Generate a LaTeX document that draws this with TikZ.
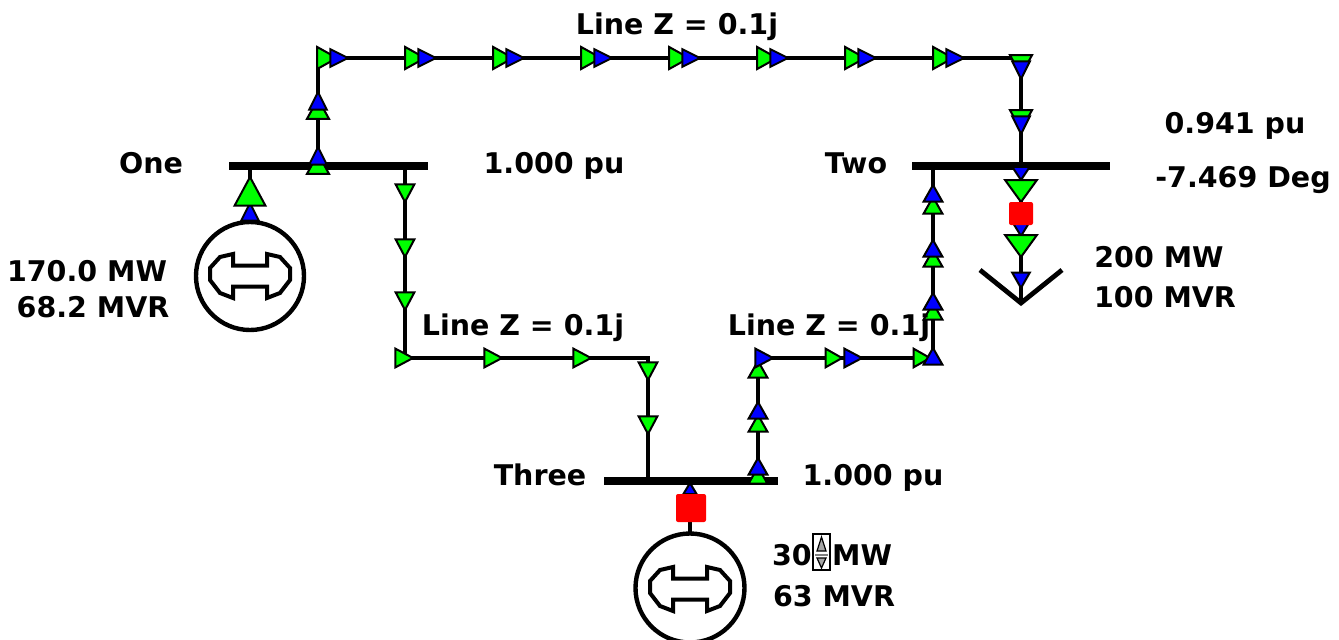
\documentclass[tikz,border=0pt]{standalone}
\usepackage{fontspec}
\setmainfont{DejaVu Sans}
\definecolor{pwg}{RGB}{0,255,0}
\definecolor{pwb}{RGB}{0,0,255}
\definecolor{pwr}{RGB}{255,0,0}
\newcommand\flowtri[6]{\filldraw[fill=#1,draw=black,line width=2pt,line join=miter,shift={(#2,#3)},rotate=#4] (0,0) -- (-#5*1.1,#6*1.1) -- (-#5*1.1,-#6*1.1) -- cycle;}
\newcommand\genbone[2]{\draw[line width=4pt,line join=miter,shift={(#1,#2)}] (-17,-22) -- (-30,-19) -- (-40,-8) -- (-40,4) -- (-30,17) -- (-17,22) -- (-17,10.5) -- (17,10.5) -- (17,22) -- (30,17) -- (40,4) -- (40,-8) -- (30,-19) -- (17,-22) -- (17,-10.5) -- (-17,-10.5) -- cycle;}
\begin{document}
\begin{tikzpicture}[x=1pt,y=-1pt,
  lbl/.style={font=\bfseries\fontsize{28.5}{30}\selectfont, inner sep=0pt, anchor=base},
  busbar/.style={line width=8.5pt},
  tline/.style={line width=4.8pt, line join=miter},
  gencirc/.style={line width=4.4pt},
  brk/.style={fill=pwr, rounded corners=2pt}]
\useasboundingbox (0,0) rectangle (1339,640);
% named points
\coordinate (oneL) at (229,166); \coordinate (oneR) at (428,166);
\coordinate (twoL) at (912,166); \coordinate (twoR) at (1110,166);
\coordinate (thrL) at (604,481); \coordinate (thrR) at (778,481);
\coordinate (a0) at (318,166); \coordinate (a1) at (318,58); \coordinate (a2) at (1021,58); \coordinate (a3) at (1021,166);
\coordinate (b0) at (405,166); \coordinate (b1) at (405,358); \coordinate (b2) at (648,358); \coordinate (b3) at (648,481);
\coordinate (c0) at (758,481); \coordinate (c1) at (758,358); \coordinate (c2) at (933,358); \coordinate (c3) at (933,166);
\coordinate (ld0) at (1021,166); \coordinate (ldv) at (1021,303); \coordinate (ldl) at (980,270); \coordinate (ldr) at (1062,270);
\coordinate (g1b) at (250,166); \coordinate (g1t) at (250,222); \coordinate (g1c) at (250,276);
\coordinate (g3b) at (690,481); \coordinate (g3t) at (690,533); \coordinate (g3c) at (690,588);
% lines
\draw[tline] (a0) -- (a1) -- (a2) -- (a3);
\draw[tline] (b0) -- (b1) -- (b2) -- (b3);
\draw[tline] (c0) -- (c1) -- (c2) -- (c3);
\draw[tline] (ld0) -- (ldv);
\draw[tline] (ldl) -- (ldv) -- (ldr);
\draw[tline] (g1b) -- (g1t);
\draw[tline] (g3b) -- (g3t);
% generators
\draw[gencirc] (g1c) circle[radius=54pt];
\genbone{250}{276}
\draw[gencirc] (g3c) circle[radius=54.5pt];
\genbone{690}{589}
\flowtri{pwb}{690}{483}{90}{10}{6}
% buses
\draw[busbar] (oneL) -- (oneR);
\draw[busbar] (twoL) -- (twoR);
\draw[busbar] (thrL) -- (thrR);
% gen One arrows
\flowtri{pwb}{250}{203}{90}{16}{8}
\flowtri{pwg}{250}{177}{90}{26}{14}
% gen Three breaker
\fill[brk] (676,494) rectangle (706,522);
% line One-Two arrows
\flowtri{pwg}{318}{154}{90}{18}{10}
\flowtri{pwb}{318}{147}{90}{16}{8}
\flowtri{pwg}{318}{99}{90}{18}{10}
\flowtri{pwb}{318}{92}{90}{16}{8}
\foreach \b in {319,407,...,935} {\flowtri{pwg}{\b+18}{58}{0}{18}{10}\flowtri{pwb}{\b+29}{58}{0}{16}{8}}
\flowtri{pwg}{1021}{75}{-90}{18}{10}
\flowtri{pwb}{1021}{79}{-90}{16}{8}
\flowtri{pwg}{1021}{130}{-90}{18}{10}
\flowtri{pwb}{1021}{134}{-90}{16}{8}
% line One-Three arrows
\flowtri{pwg}{405}{202}{-90}{16}{8.5}
\flowtri{pwg}{405}{257}{-90}{16}{8.5}
\flowtri{pwg}{405}{310}{-90}{16}{8.5}
\flowtri{pwg}{413}{358}{0}{16}{8.5}
\flowtri{pwg}{502}{358}{0}{16}{8.5}
\flowtri{pwg}{591}{358}{0}{16}{8.5}
\flowtri{pwg}{648}{380}{-90}{16}{8.5}
\flowtri{pwg}{648}{434}{-90}{16}{8.5}
% line Three-Two arrows
\flowtri{pwg}{758}{467}{90}{15}{8.5}
\flowtri{pwb}{758}{458}{90}{15}{8.5}
\flowtri{pwg}{758}{415}{90}{15}{8.5}
\flowtri{pwb}{758}{402}{90}{15}{8.5}
\flowtri{pwg}{758}{361}{90}{15}{8.5}
\flowtri{pwb}{773}{358}{0}{16}{8.5}
\flowtri{pwg}{842}{358}{0}{15}{8.5}
\flowtri{pwb}{862}{358}{0}{16}{8.5}
\flowtri{pwg}{930}{358}{0}{15}{8.5}
\flowtri{pwb}{933}{348}{90}{15}{8.5}
\flowtri{pwg}{933}{303}{90}{15}{8.5}
\flowtri{pwb}{933}{293}{90}{15}{8.5}
\flowtri{pwg}{933}{250}{90}{15}{8.5}
\flowtri{pwb}{933}{240}{90}{15}{8.5}
\flowtri{pwg}{933}{197}{90}{15}{8.5}
\flowtri{pwb}{933}{185}{90}{15}{8.5}
% load arrows
\flowtri{pwb}{1021}{180}{-90}{12}{8}
\flowtri{pwg}{1021}{202}{-90}{20}{14.5}
\flowtri{pwb}{1021}{236}{-90}{13}{8}
\fill[brk] (1009,202) rectangle (1033,225);
\flowtri{pwg}{1021}{257}{-90}{20}{14.5}
\flowtri{pwb}{1021}{288}{-90}{14}{8}
% labels
\node[lbl] (tz1) at (677,34) {Line Z = 0.1j};
\node[lbl] (tone) at (151,173) {One};
\node[lbl] (tv1) at (554,173) {1.000 pu};
\node[lbl] (tv2) at (1235,133) {0.941 pu};
\node[lbl] (ta2) at (1243,187) {-7.469 Deg};
\node[lbl] (ttwo) at (856,173) {Two};
\node[lbl] (tg1p) at (87,281) {170.0 MW};
\node[lbl] (tg1q) at (93,317) {68.2 MVR};
\node[lbl] (tz2) at (523,335) {Line Z = 0.1j};
\node[lbl] (tz3) at (829,335) {Line Z = 0.1j};
\node[lbl] (tlp) at (1159,267) {200 MW};
\node[lbl] (tlq) at (1165,307) {100 MVR};
\node[lbl] (tthr) at (540,485) {Three};
\node[lbl] (tv3) at (873,485) {1.000 pu};
\node[lbl,anchor=base east] (tg3p) at (812,565) {30};
\node[lbl,anchor=base west] (tg3u) at (832,565) {MW};
\node[lbl] (tg3q) at (834,606) {63 MVR};
% spinner
\draw[line width=1.6pt] (813,534) rectangle (830,570);
\filldraw[fill=gray!70,line width=1.2pt] (821.5,537) -- (826,551) -- (817,551) -- cycle;
\draw[gray,line width=1.8pt] (815,555) -- (828,555);
\filldraw[fill=gray!70,line width=1.2pt] (821.5,568) -- (826,558) -- (817,558) -- cycle;
\end{tikzpicture}
\end{document}
